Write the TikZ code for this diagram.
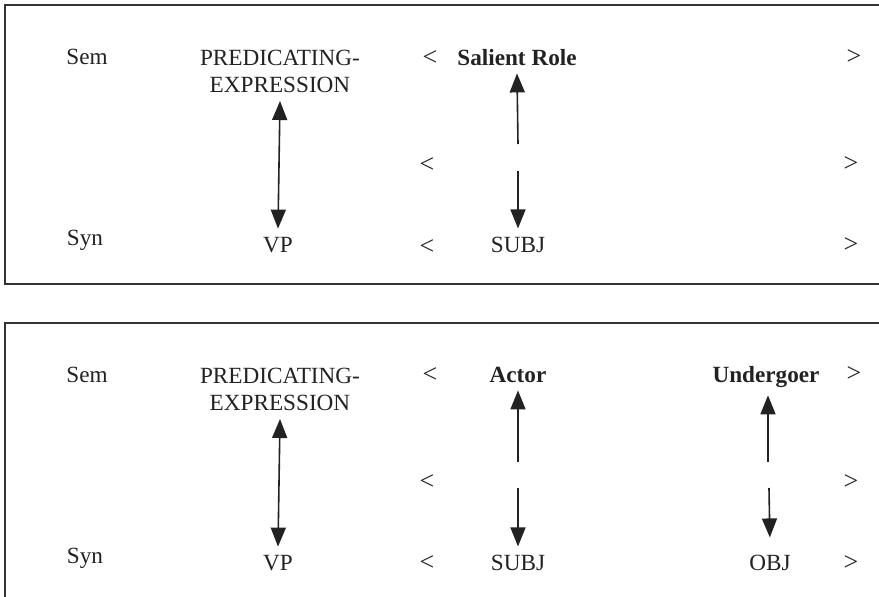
\documentclass[tikz,border=0pt]{standalone}
\usepackage{fontspec}
\setmainfont{Liberation Serif}
\usetikzlibrary{arrows.meta}
\definecolor{ink}{HTML}{222222}
\definecolor{frame}{HTML}{333333}
\tikzset{
  txt/.style={inner sep=8pt, text=ink, font=\fontsize{23.2}{27}\selectfont, anchor=base},
  two/.style={txt, align=center, anchor=north},
  bld/.style={txt, font=\fontsize{23.2}{27}\selectfont\bfseries},
  brk/.style={inner sep=0pt, text=ink, font=\fontsize{26}{30}\selectfont, anchor=center},
  boxline/.style={draw=frame, line width=2pt},
  arr/.style={draw=ink, line width=1.6pt, -{Triangle[length=19pt,width=15pt]}},
  darr/.style={draw=ink, line width=1.6pt, {Triangle[length=19pt,width=15pt]}-{Triangle[length=19pt,width=15pt]}}
}
\begin{document}
\begin{tikzpicture}[x=1pt,y=-1pt]
\useasboundingbox (0,0) rectangle (879,597);
% frames (cut off at the right, and at the bottom for the lower one)
\draw[boxline] (879,5) -- (5,5) -- (5,284) -- (879,284);
\draw[boxline] (879,323) -- (5,323) -- (5,597);

% ---------- top panel ----------
\node[txt] (sem1) at (87,64) {Sem};
\node[txt] (syn1) at (85,245) {Syn};
\node[two] (pe1) at (280,42) {PREDICATING-\\EXPRESSION};
\node[txt] (vp1) at (278,252) {VP};
\node[bld] (sal) at (517,65) {Salient Role};
\node[txt] (subj1) at (518,252) {SUBJ};
\node[brk] (la1) at (430,58) {<};
\node[brk] (lb1) at (427,165) {<};
\node[brk] (lc1) at (427,247) {<};
\node[brk] (ra1) at (854,57) {>};
\node[brk] (rb1) at (851,164) {>};
\node[brk] (rc1) at (851,245) {>};
\draw[darr] (pe1.south) -- (vp1.north);
\coordinate (g1u) at (518,144);
\coordinate (g1d) at (518,171);
\draw[arr] (g1u) -- (sal.south);
\draw[arr] (g1d) -- (subj1.north);

% ---------- bottom panel ----------
\node[txt] (sem2) at (87,382) {Sem};
\node[txt] (syn2) at (85,563) {Syn};
\node[two] (pe2) at (280,360) {PREDICATING-\\EXPRESSION};
\node[txt] (vp2) at (278,570) {VP};
\node[bld] (act) at (518,382) {Actor};
\node[bld] (und) at (766,382) {Undergoer};
\node[txt] (subj2) at (518,570) {SUBJ};
\node[txt] (obj) at (770,570) {OBJ};
\node[brk] (la2) at (430,375) {<};
\node[brk] (lb2) at (427,482) {<};
\node[brk] (lc2) at (427,563) {<};
\node[brk] (ra2) at (854,374) {>};
\node[brk] (rb2) at (851,482) {>};
\node[brk] (rc2) at (851,563) {>};
\draw[darr] (pe2.south) -- (vp2.north);
\coordinate (g2u) at (518,462);
\coordinate (g2d) at (518,488);
\draw[arr] (g2u) -- (act.south);
\draw[arr] (g2d) -- (subj2.north);
\coordinate (g3u) at (768,462);
\coordinate (g3d) at (769,488);
\draw[arr] (g3u) -- ([xshift=2pt]und.south);
\draw[arr, shorten >=9pt] (g3d) -- (obj.north);
\end{tikzpicture}
\end{document}
